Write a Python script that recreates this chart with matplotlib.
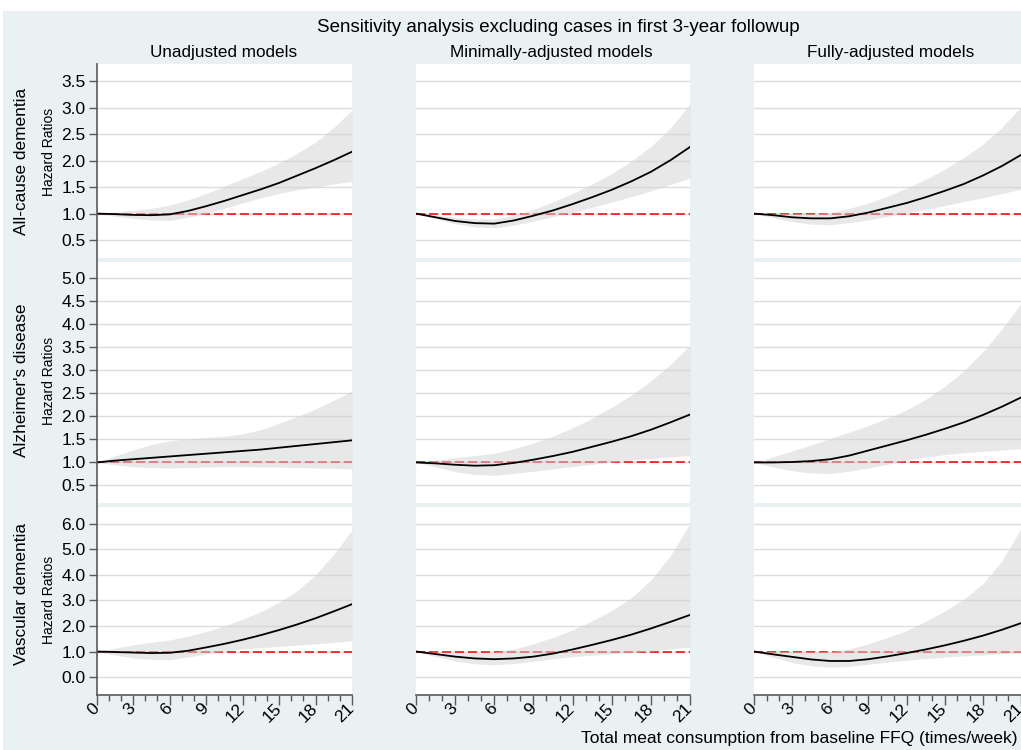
import matplotlib
matplotlib.use('Agg')
import matplotlib.pyplot as plt
from matplotlib.lines import Line2D
from matplotlib.patches import Rectangle

plt.rcParams['font.family'] = ['Liberation Sans', 'DejaVu Sans']

# x grid: total meat consumption (times/week)
meat = [0, 1.5, 3, 4.5, 6, 7.5, 9, 10.5, 12, 13.5, 15, 16.5, 18, 19.5, 21]

outcomes = ["All-cause dementia", "Alzheimer's disease", "Vascular dementia"]
models = ["Unadjusted models", "Minimally-adjusted models", "Fully-adjusted models"]

# all-cause dementia
acd_unadj_hr = [1.0, 0.99, 0.975, 0.97, 0.985, 1.05, 1.14, 1.24, 1.35, 1.46, 1.58, 1.72, 1.86, 2.01, 2.17]
acd_unadj_lo = [1.0, 0.95, 0.91, 0.88, 0.87, 0.93, 1.0, 1.1, 1.2, 1.3, 1.38, 1.45, 1.5, 1.56, 1.61]
acd_unadj_hi = [1.0, 1.03, 1.06, 1.1, 1.16, 1.26, 1.38, 1.52, 1.66, 1.8, 1.96, 2.14, 2.35, 2.63, 2.96]
acd_min_hr = [1.0, 0.93, 0.86, 0.82, 0.81, 0.87, 0.96, 1.06, 1.18, 1.31, 1.45, 1.61, 1.79, 2.01, 2.26]
acd_min_lo = [1.0, 0.9, 0.81, 0.75, 0.73, 0.78, 0.86, 0.94, 1.02, 1.12, 1.22, 1.32, 1.43, 1.55, 1.67]
acd_min_hi = [1.0, 0.97, 0.93, 0.9, 0.9, 0.97, 1.08, 1.22, 1.38, 1.56, 1.76, 1.99, 2.27, 2.62, 3.07]
acd_full_hr = [1.0, 0.97, 0.93, 0.91, 0.91, 0.95, 1.02, 1.11, 1.2, 1.31, 1.43, 1.56, 1.72, 1.9, 2.11]
acd_full_lo = [1.0, 0.92, 0.85, 0.8, 0.79, 0.83, 0.88, 0.95, 1.01, 1.08, 1.15, 1.23, 1.3, 1.38, 1.46]
acd_full_hi = [1.0, 1.0, 1.0, 1.0, 1.02, 1.1, 1.2, 1.33, 1.48, 1.65, 1.84, 2.06, 2.31, 2.63, 3.02]

# alzheimer's disease
ad_unadj_hr = [1.0, 1.04, 1.07, 1.1, 1.13, 1.16, 1.19, 1.22, 1.25, 1.28, 1.32, 1.36, 1.4, 1.44, 1.48]
ad_unadj_lo = [1.0, 0.95, 0.91, 0.89, 0.88, 0.89, 0.9, 0.91, 0.91, 0.9, 0.9, 0.89, 0.88, 0.87, 0.86]
ad_unadj_hi = [1.0, 1.14, 1.27, 1.39, 1.47, 1.51, 1.54, 1.57, 1.62, 1.71, 1.85, 2.0, 2.16, 2.35, 2.55]
ad_min_hr = [1.0, 0.98, 0.95, 0.93, 0.94, 0.99, 1.06, 1.14, 1.23, 1.34, 1.45, 1.57, 1.71, 1.87, 2.04]
ad_min_lo = [1.0, 0.9, 0.8, 0.74, 0.72, 0.76, 0.81, 0.86, 0.91, 0.96, 1.01, 1.05, 1.09, 1.12, 1.15]
ad_min_hi = [1.0, 1.05, 1.1, 1.15, 1.2, 1.3, 1.42, 1.57, 1.75, 1.96, 2.2, 2.46, 2.77, 3.13, 3.54]
ad_full_hr = [1.0, 1.0, 1.01, 1.03, 1.07, 1.15, 1.26, 1.37, 1.48, 1.6, 1.73, 1.87, 2.03, 2.21, 2.41]
ad_full_lo = [1.0, 0.9, 0.82, 0.77, 0.76, 0.81, 0.88, 0.96, 1.05, 1.12, 1.17, 1.21, 1.24, 1.27, 1.3]
ad_full_hi = [1.0, 1.12, 1.25, 1.38, 1.52, 1.66, 1.8, 1.96, 2.14, 2.37, 2.65, 2.99, 3.4, 3.9, 4.45]

# vascular dementia
vd_unadj_hr = [1.0, 0.98, 0.96, 0.94, 0.95, 1.03, 1.16, 1.3, 1.46, 1.64, 1.84, 2.06, 2.3, 2.57, 2.85]
vd_unadj_lo = [1.0, 0.86, 0.75, 0.69, 0.68, 0.78, 0.91, 1.02, 1.1, 1.15, 1.2, 1.25, 1.3, 1.36, 1.42]
vd_unadj_hi = [1.0, 1.13, 1.26, 1.36, 1.45, 1.6, 1.78, 2.0, 2.26, 2.56, 2.92, 3.38, 4.0, 4.8, 5.75]
vd_min_hr = [1.0, 0.9, 0.8, 0.73, 0.7, 0.73, 0.8, 0.92, 1.08, 1.26, 1.45, 1.66, 1.9, 2.16, 2.43]
vd_min_lo = [1.0, 0.8, 0.63, 0.52, 0.48, 0.53, 0.62, 0.72, 0.8, 0.86, 0.91, 0.96, 1.02, 1.1, 1.17]
vd_min_hi = [1.0, 0.98, 0.96, 0.95, 0.98, 1.1, 1.3, 1.55, 1.85, 2.2, 2.6, 3.1, 3.8, 4.75, 6.0]
vd_full_hr = [1.0, 0.89, 0.79, 0.69, 0.63, 0.63, 0.7, 0.81, 0.94, 1.08, 1.24, 1.42, 1.62, 1.85, 2.11]
vd_full_lo = [1.0, 0.77, 0.57, 0.44, 0.39, 0.42, 0.5, 0.58, 0.66, 0.72, 0.78, 0.83, 0.87, 0.91, 0.94]
vd_full_hi = [1.0, 1.0, 1.0, 0.99, 1.0, 1.1, 1.3, 1.55, 1.82, 2.18, 2.58, 3.05, 3.65, 4.55, 5.8]

panels = [
    [(acd_unadj_hr, acd_unadj_lo, acd_unadj_hi), (acd_min_hr, acd_min_lo, acd_min_hi), (acd_full_hr, acd_full_lo, acd_full_hi)],
    [(ad_unadj_hr, ad_unadj_lo, ad_unadj_hi), (ad_min_hr, ad_min_lo, ad_min_hi), (ad_full_hr, ad_full_lo, ad_full_hi)],
    [(vd_unadj_hr, vd_unadj_lo, vd_unadj_hi), (vd_min_hr, vd_min_lo, vd_min_hi), (vd_full_hr, vd_full_lo, vd_full_hi)],
]

row_yticks = [
    [0.5, 1.0, 1.5, 2.0, 2.5, 3.0, 3.5],
    [0.5, 1.0, 1.5, 2.0, 2.5, 3.0, 3.5, 4.0, 4.5, 5.0],
    [0.0, 1.0, 2.0, 3.0, 4.0, 5.0, 6.0],
]
row_ylims = [(0.16, 3.83), (0.12, 5.35), (-0.70, 6.65)]
xticks = [0, 3, 6, 9, 12, 15, 18, 21]

W, H = 1021, 750
fig = plt.figure(figsize=(W / 100, H / 100), dpi=100, facecolor='white')
bg = '#eaf1f3'
fig.add_artist(Rectangle((3 / W, 0), 1, 1 - 11 / H, transform=fig.transFigure,
                         facecolor=bg, edgecolor='none', zorder=-10))

col_px = [(96.7, 352), (416, 690), (754, 1021)]
row_px = [(64, 258), (262, 503), (507, 695)]
axis_col = '#5a5a5a'

for r in range(3):
    for c in range(3):
        x0, x1 = col_px[c]
        y0, y1 = row_px[r]
        ax = fig.add_axes([x0 / W, 1 - y1 / H, (x1 - x0) / W, (y1 - y0) / H])
        ax.set_facecolor('white')
        hr, lo, hi = panels[r][c]
        ax.set_xlim(0, 21)
        ax.set_ylim(*row_ylims[r])
        ax.set_yticks(row_yticks[r])
        ax.yaxis.grid(True, color='#dddddd', lw=1.0)
        ax.set_axisbelow(True)
        ax.axhline(1, color='#ee0000', lw=1.1, ls=(0, (6, 2.5)), zorder=1)
        ax.fill_between(meat, lo, hi, color='#d2d2d2', alpha=0.5, lw=0, zorder=2)
        ax.plot(meat, hr, color='black', lw=1.3, zorder=3)
        for s in ax.spines.values():
            s.set_visible(False)
        if c == 0:
            ax.set_yticklabels([f'{t:.1f}' for t in row_yticks[r]])
            ax.tick_params(axis='y', length=6, width=1, color=axis_col, labelsize=12.5, pad=2)
        else:
            ax.tick_params(axis='y', length=0, labelleft=False)
        if r == 2:
            ax.spines['bottom'].set_visible(True)
            ax.spines['bottom'].set_color(axis_col)
            ax.spines['bottom'].set_linewidth(1.2)
            ax.set_xticks(xticks)
            ax.set_xticks(range(22), minor=True)
            ax.set_xticklabels([str(t) for t in xticks], rotation=45, ha='right',
                               va='center', rotation_mode='anchor')
            ax.tick_params(axis='x', which='major', length=7, width=1, color=axis_col,
                           labelsize=12.5, pad=1)
            ax.tick_params(axis='x', which='minor', length=4, width=1, color=axis_col)
        else:
            ax.set_xticks([])

# continuous left axis line of first column
fig.add_artist(Line2D([96.7 / W, 96.7 / W], [1 - 64 / H, 1 - 695 / H],
                      transform=fig.transFigure, color=axis_col, lw=1.2))

fig.text(558 / W, 1 - 28 / H, 'Sensitivity analysis excluding cases in first 3-year followup',
         ha='center', va='center', fontsize=13.5)
col_title_x = [224, 551, 891]
for c in range(3):
    fig.text(col_title_x[c] / W, 1 - 52 / H, models[c], ha='center', va='center', fontsize=12.3)

row_label_y = [161, 380, 594]
hr_label_y = [152, 381, 600]
for r in range(3):
    fig.text(22 / W, 1 - row_label_y[r] / H, outcomes[r], rotation=90,
             ha='center', va='center', fontsize=12.4)
    fig.text(49 / W, 1 - hr_label_y[r] / H, 'Hazard Ratios', rotation=90,
             ha='center', va='center', fontsize=10)

fig.text(1017 / W, 1 - 738 / H, 'Total meat consumption from baseline FFQ (times/week)',
         ha='right', va='center', fontsize=12.5)

fig.savefig('out.png', dpi=100, facecolor='white')
